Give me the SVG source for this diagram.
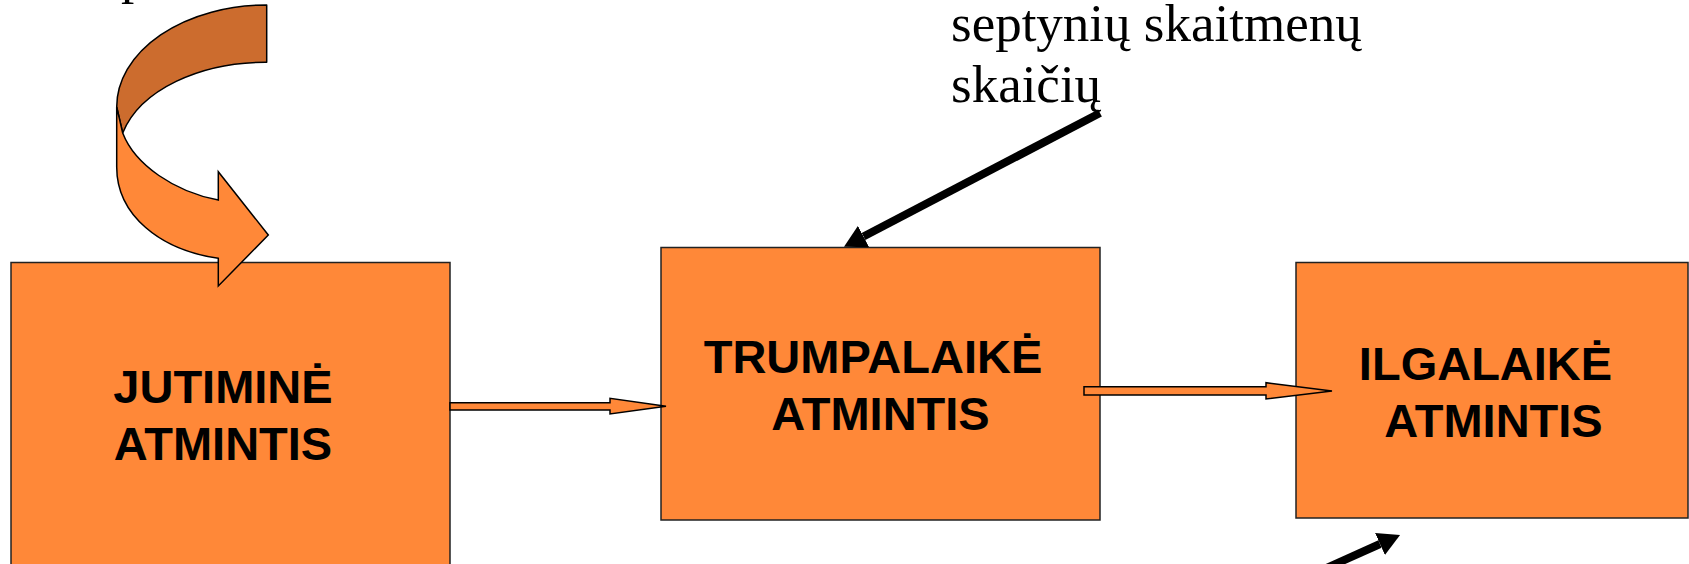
<svg xmlns="http://www.w3.org/2000/svg" width="1689" height="564" viewBox="0 0 1689 564">
<style>
.box{fill:#FF8838;stroke:#222;stroke-width:1.5}
.lbl{font-family:"Liberation Sans",Arial,sans-serif;font-weight:bold;font-size:47px;fill:#000;text-anchor:middle}
.note{font-family:"Liberation Serif","Times New Roman",serif;font-size:53px;fill:#000}
.block{fill:#FF8838;stroke:#000;stroke-width:1.5;stroke-linejoin:miter}
.thick{stroke:#000;stroke-width:8;fill:none;marker-end:url(#head)}
</style>
<defs>
<marker id="head" markerUnits="userSpaceOnUse" markerWidth="22" markerHeight="24" viewBox="0 0 22 24" refX="0" refY="12" orient="auto">
<path d="M0,0 L22,12 L0,24 Z" fill="#000"/>
</marker>
</defs>
<rect width="1689" height="564" fill="#fff"/>
<text class="note" x="121" y="-7">p</text>
<g id="node-jutimine">
<rect class="box" x="11" y="262.5" width="439" height="320"/>
<text class="lbl" x="223" y="403">JUTIMINĖ</text>
<text class="lbl" x="223" y="460">ATMINTIS</text>
</g>
<g id="curved-arrow">
<path d="M266.7,5 A150,102 0 0 0 116.7,107 L122.7,133 C140,90 200,62 266.7,62.3 Z" fill="#CC6C2E" stroke="#000" stroke-width="1.5" stroke-linejoin="round"/>
<path d="M116.7,107 L122.7,133 C135,165 175,192 218.3,200 L218.3,171.7 L268.3,235 L218.3,286 L218.3,258.3 C160,250 116.7,215 116.7,167 Z" fill="#FF8838" stroke="#000" stroke-width="1.5" stroke-linejoin="miter"/>
</g>
<g id="node-trumpalaike">
<rect class="box" x="661" y="247.5" width="439" height="272.5"/>
<text class="lbl" x="873" y="373">TRUMPALAIKĖ</text>
<text class="lbl" x="880.5" y="430">ATMINTIS</text>
</g>
<g id="node-ilgalaike">
<rect class="box" x="1296" y="262.5" width="392" height="255.5"/>
<text class="lbl" x="1485.5" y="380">ILGALAIKĖ</text>
<text class="lbl" x="1493.5" y="437">ATMINTIS</text>
</g>
<g id="note-septyniu">
<text class="note" x="951" y="41">septynių skaitmenų</text>
<text class="note" x="951" y="102">skaičių</text>
</g>
<g id="connectors">
<path class="block" d="M450,402.7 L610,402.7 L610,398.3 L666,406.3 L610,414 L610,410 L450,410 Z"/>
<path class="block" d="M1084,386.7 L1266,386.7 L1266,382.7 L1332,391 L1266,399 L1266,395 L1084,395 Z"/>
<line class="thick" x1="1100" y1="113" x2="863.5" y2="236.5"/>
<line class="thick" x1="1311" y1="575" x2="1380" y2="544"/>
</g>
</svg>
